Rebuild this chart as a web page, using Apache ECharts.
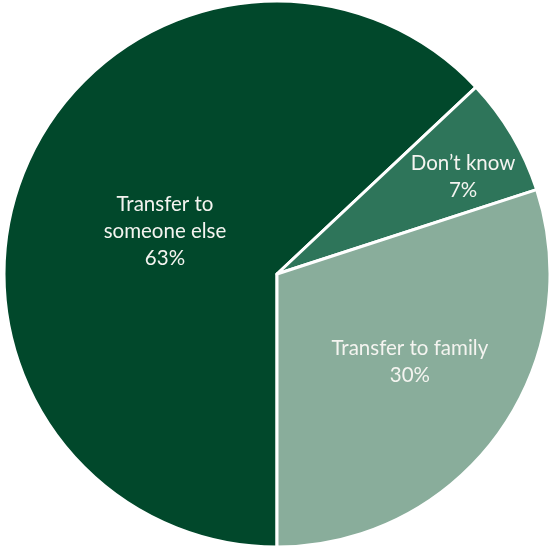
<!DOCTYPE html>
<html>
<head>
<meta charset="utf-8">
<script src="https://cdn.jsdelivr.net/npm/echarts@6/dist/echarts.min.js"></script>
<style>
  html, body { margin: 0; padding: 0; background: #ffffff; }
  #chart { width: 550px; height: 547px; }
</style>
</head>
<body>
<div id="chart"></div>
<script>
// Pie of transfer destinations, share in percent
const categories = ['Transfer to\nsomeone else', 'Don\u2019t know', 'Transfer to family'];
const shares = [63, 7, 30];
const sliceColors = ['#01482b', '#2e755a', '#89ad9b'];
// nudges for the inside labels (pixels)
const labelShift = [[16, 13], [66, -26], [20, 6]];

const chart = echarts.init(document.getElementById('chart'), null, { renderer: 'canvas' });

chart.setOption({
  animation: false,
  series: [{
    type: 'pie',
    center: [277, 274],
    radius: 273,
    startAngle: -90,
    clockwise: true,
    avoidLabelOverlap: false,
    itemStyle: { borderColor: '#ffffff', borderWidth: 3 },
    label: {
      show: true,
      position: 'inside',
      color: '#f4f4f0',
      fontFamily: 'Lato',
      fontSize: 20.5,
      lineHeight: 27,
      align: 'center',
      formatter: p => p.name + '\n' + p.value + '%'
    },
    labelLine: { show: false },
    labelLayout: p => ({ dx: labelShift[p.dataIndex][0], dy: labelShift[p.dataIndex][1] }),
    emphasis: { disabled: true },
    data: categories.map((name, i) => ({
      name: name,
      value: shares[i],
      itemStyle: { color: sliceColors[i] }
    }))
  }]
});
</script>
</body>
</html>
